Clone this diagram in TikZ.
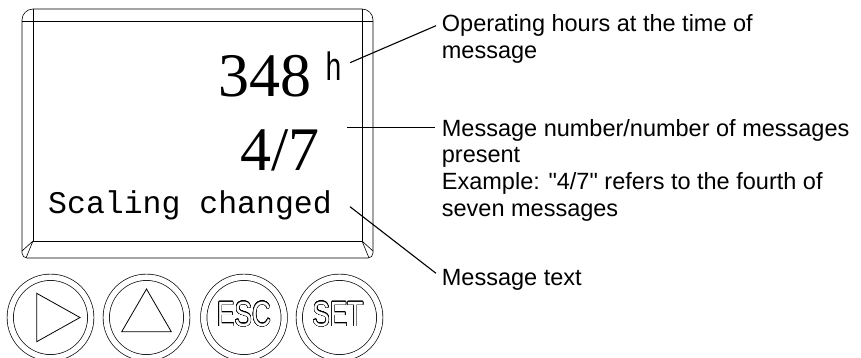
\documentclass[tikz,border=0pt]{standalone}
\usepackage{fontspec}
\usepackage{graphicx}
\usepackage[copies]{contour}
\usetikzlibrary{calc, positioning}
\setmainfont{Liberation Sans}
\newfontfamily\lblfont{Liberation Sans}
\newfontfamily\lcdserif{Liberation Serif}
\newfontfamily\lcdmono{Liberation Mono}
\contourlength{0.6pt}
\contournumber{32}
\newcommand{\keylabel}[1]{\scalebox{0.75}[1]{\contour{black}{\textcolor{white}{#1}}}}

\tikzset{
  bezel/.style={draw=black, line width=0.6pt},
  keyring/.style={circle, draw=black, line width=0.7pt, double=white, double distance=5.6pt, minimum size=80.5pt, inner sep=0pt},
  keyglyph/.style={draw=black, line width=0.8pt, line join=miter},
  leader/.style={draw=black, line width=1.1pt},
  lbl/.style={font=\lblfont\fontsize{23.5}{26.7}\selectfont, align=left, inner sep=0pt, anchor=base west},
}

\begin{document}
\begin{tikzpicture}[x=1pt, y=-1pt]
  \useasboundingbox (0,0) rectangle (861,357);

  % --- Display bezel ---
  \draw[bezel] (22,20) arc[start angle=180, end angle=270, radius=11] -- (362,9)
    arc[start angle=270, end angle=360, radius=11] -- (373,253)
    arc[start angle=0, end angle=90, radius=5] -- (27,258)
    arc[start angle=90, end angle=180, radius=5] -- cycle;
  \draw[bezel] (33,21) rectangle (362,241);
  % corner edges of the bevel
  \draw[bezel] (33,9) -- (33,21) -- (22,21);
  \draw[bezel] (362,9) -- (362,21) -- (373,21);
  \draw[bezel] (33,241) -- (26,258) (33,241) -- (22,251);
  \draw[bezel] (362,241) -- (369,258) (362,241) -- (373,251);

  % --- Display contents ---
  \node[font=\fontsize{62}{62}\lcdserif, inner sep=0pt, anchor=base east] (hours) at (312,96) {348};
  \node[font=\fontsize{33}{33}\lcdmono, inner sep=0pt, anchor=base west] (hunit) at (325,80) {\scalebox{0.85}[1.2]{h}};
  \node[font=\fontsize{62}{62}\lcdserif, inner sep=0pt, anchor=base east] (count) at (320,170) {4/7};
  \node[font=\fontsize{31.5}{33}\lcdmono, inner sep=0pt, anchor=base west] (msg) at (48,213) {Scaling changed};

  % --- Keys ---
  \node[keyring] (keynext) at (50.5,317.5) {};
  \node[keyring] (keyup) at (146.5,317.5) {};
  \node[keyring] (keyesc) at (244,317.5) {};
  \node[keyring] (keyset) at (339.5,317.5) {};
  \draw[keyglyph] ($(keynext)+(-13.8,-24.2)$) -- ($(keynext)+(-13.8,24.2)$) -- ($(keynext)+(29.5,0)$) -- cycle;
  \draw[keyglyph] ($(keyup)+(0,-28.5)$) -- ($(keyup)+(-24.8,14.2)$) -- ($(keyup)+(24.8,14.2)$) -- cycle;
  \node[font=\fontsize{35}{35}\selectfont, inner sep=0pt] (esctext) at (244,314.5) {\keylabel{ESC}};
  \node[font=\fontsize{35}{35}\selectfont, inner sep=0pt] (settext) at (338,314.5) {\keylabel{SET}};

  % --- Callouts ---
  \node[lbl] (ophours) at (441.7,58.4) {Operating hours at the time of\\message};
  \node[lbl] (msgcount) at (441.7,216.1) {Message number/number of messages\\present\\Example: "4/7" refers to the fourth of\\seven messages};
  \node[lbl] (msgtext) at (441.7,285) {Message text};

  \draw[leader] ($(hunit.base west)+(25,-17.3)$) -- ($(ophours.base west)+(-5.7,-32.7)$);
  \draw[leader] ($(count.base east)+(27.3,-42.7)$) -- ($(msgcount.base west)+(-6.7,-88.8)$);
  \draw[leader] ($(msg.base west)+(302,-6.3)$) -- ($(msgtext.base west)+(-5.7,-11.7)$);
\end{tikzpicture}
\end{document}
